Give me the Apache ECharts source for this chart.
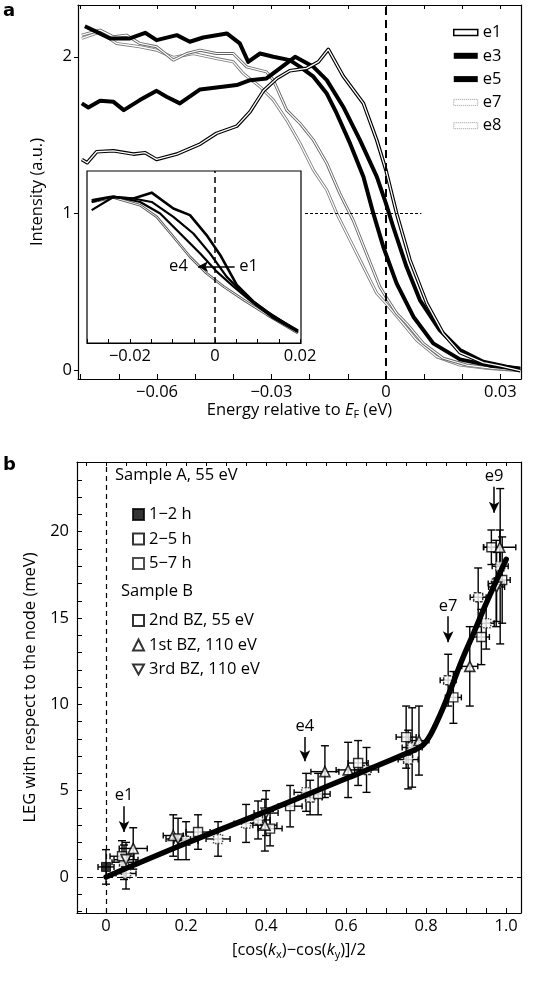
<!DOCTYPE html>
<html>
<head>
<meta charset="utf-8">
<script src="https://cdn.jsdelivr.net/npm/echarts@6/dist/echarts.min.js"></script>
<style>html,body{margin:0;padding:0;background:#fff;}#c{width:537px;height:1002px;}</style>
</head>
<body>
<div id="c"></div>
<script>
// ---------- Panel a: EDC curves [energy (eV), intensity (a.u.)] ----------
const e1Curve = [[-0.0797,1.346],[-0.0783,1.325],[-0.0758,1.395],[-0.0714,1.401],[-0.0662,1.380],[-0.0631,1.389],[-0.0601,1.346],[-0.0548,1.380],[-0.0487,1.444],[-0.0444,1.512],[-0.0391,1.558],[-0.0356,1.650],[-0.0321,1.783],[-0.0286,1.862],[-0.0252,1.911],[-0.0208,1.926],[-0.0177,1.968],[-0.0151,2.047],[-0.0112,1.877],[-0.0059,1.703],[-0.0024,1.469],[0,1.278],[0.0028,1.002],[0.0063,0.705],[0.0107,0.429],[0.0150,0.238],[0.0194,0.115],[0.0255,0.051],[0.0299,0.030],[0.0352,0.0]];
const e3Curve = [[-0.0797,1.703],[-0.0780,1.677],[-0.0749,1.720],[-0.0714,1.713],[-0.0687,1.660],[-0.0645,1.724],[-0.0601,1.783],[-0.0575,1.745],[-0.0540,1.703],[-0.0487,1.792],[-0.0444,1.805],[-0.0391,1.820],[-0.0356,1.851],[-0.0313,1.862],[-0.0278,1.926],[-0.0238,2.000],[-0.0190,1.936],[-0.0155,1.851],[-0.0112,1.682],[-0.0068,1.469],[-0.0024,1.236],[0,1.066],[0.0019,0.917],[0.0054,0.662],[0.0089,0.450],[0.0141,0.259],[0.0194,0.132],[0.0255,0.057],[0.0316,0.025],[0.0352,0.013]];
const e5Curve = [[-0.0789,2.195],[-0.0758,2.159],[-0.0723,2.117],[-0.0671,2.117],[-0.0631,2.153],[-0.0601,2.106],[-0.0548,2.138],[-0.0514,2.096],[-0.0479,2.123],[-0.0417,2.149],[-0.0383,2.085],[-0.0361,1.968],[-0.0330,2.021],[-0.0295,2.000],[-0.0252,1.979],[-0.0225,1.936],[-0.0190,1.873],[-0.0155,1.766],[-0.0129,1.639],[-0.0094,1.448],[-0.0059,1.236],[-0.0033,1.002],[-0.0007,0.790],[0.0028,0.556],[0.0072,0.344],[0.0124,0.174],[0.0194,0.072],[0.0273,0.032],[0.0352,0.013]];
const e7Curve = [[-0.0797,2.138],[-0.0749,2.170],[-0.0714,2.127],[-0.0680,2.138],[-0.0645,2.085],[-0.0601,2.064],[-0.0557,1.979],[-0.0522,2.021],[-0.0487,2.042],[-0.0444,2.021],[-0.0400,2.021],[-0.0365,1.936],[-0.0313,1.904],[-0.0295,1.851],[-0.0260,1.660],[-0.0225,1.575],[-0.0190,1.469],[-0.0155,1.321],[-0.0121,1.130],[-0.0086,0.960],[-0.0051,0.747],[-0.0016,0.535],[0,0.471],[0.0028,0.365],[0.0054,0.301],[0.0098,0.174],[0.0150,0.079],[0.0211,0.036],[0.0281,0.015],[0.0352,0.004]];
const e8Curve = [[-0.0797,2.117],[-0.0749,2.159],[-0.0706,2.085],[-0.0645,2.064],[-0.0601,2.042],[-0.0557,1.996],[-0.0505,2.021],[-0.0444,1.989],[-0.0400,1.968],[-0.0374,1.894],[-0.0330,1.809],[-0.0295,1.724],[-0.0260,1.597],[-0.0225,1.448],[-0.0190,1.278],[-0.0155,1.151],[-0.0129,1.002],[-0.0094,0.832],[-0.0059,0.662],[-0.0024,0.493],[0,0.429],[0.0037,0.323],[0.0080,0.195],[0.0133,0.089],[0.0194,0.036],[0.0264,0.015],[0.0352,0.0]];

// Inset curves (normalised)
const insetE1 = [[-0.0290,0.996],[-0.0247,1.019],[-0.0192,1.008],[-0.0149,1.049],[-0.0098,0.938],[-0.0059,0.892],[-0.0020,0.753],[0.0012,0.614],[0.0051,0.405],[0.0090,0.290],[0.0137,0.185],[0.0195,0.086]];
const insetE2 = [[-0.0290,0.927],[-0.0239,1.019],[-0.0192,1.008],[-0.0149,0.984],[-0.0098,0.880],[-0.0051,0.764],[-0.0012,0.625],[0.0027,0.463],[0.0074,0.324],[0.0122,0.220],[0.0195,0.081]];
const insetE3 = [[-0.0290,0.984],[-0.0239,1.024],[-0.0176,0.984],[-0.0129,0.903],[-0.0082,0.764],[-0.0035,0.625],[0.0004,0.498],[0.0043,0.394],[0.0090,0.278],[0.0137,0.174],[0.0195,0.076]];
const insetE4 = [[-0.0290,0.984],[-0.0239,1.015],[-0.0176,0.961],[-0.0137,0.880],[-0.0098,0.741],[-0.0059,0.602],[-0.0020,0.486],[0.0020,0.394],[0.0067,0.301],[0.0122,0.197],[0.0195,0.069]];

const aXLabels = [-0.06, -0.03, 0, 0.03];
const aYLabels = [0, 1, 2];
const insetXLabels = [-0.02, 0, 0.02];

// ---------- Panel b: LEG points [x, y, xErr, yErr] ----------
const sA_1to2h = [[0.0,0.58,0.02,1.0]];
const sA_2to5h = [[0.045,0.85,0.03,1.0],[0.2,2.1,0.03,1.1],[0.38,3.3,0.03,1.1],[0.51,4.6,0.03,1.0],[0.651,6.2,0.03,1.3],[0.755,6.8,0.025,1.7],[0.855,11.4,0.02,1.5],[0.93,16.2,0.02,1.7],[0.975,17.0,0.02,2.5]];
const sA_5to7h = [[0.05,0.2,0.025,0.9],[0.28,2.2,0.03,1.0],[0.35,3.1,0.03,1.1],[0.5,4.9,0.03,1.1],[0.765,7.5,0.025,2.3],[0.95,14.7,0.02,1.5],[0.985,18.0,0.02,4.5]];
const sB_2ndBZ = [[0.04,1.2,0.03,0.9],[0.23,2.6,0.03,1.0],[0.41,2.8,0.03,1.0],[0.46,4.1,0.03,1.2],[0.53,4.8,0.03,1.2],[0.63,6.6,0.025,1.3],[0.75,8.1,0.025,1.8],[0.868,10.4,0.02,1.5],[0.938,13.9,0.02,1.6],[0.963,19.1,0.02,1.0],[0.99,17.2,0.02,2.5]];
const sB_1stBZ = [[0.068,1.65,0.035,1.2],[0.168,2.4,0.025,1.2],[0.397,3.0,0.03,1.5],[0.547,6.1,0.035,1.5],[0.605,6.2,0.03,1.6],[0.782,7.9,0.025,2.0],[0.909,12.2,0.02,2.3],[0.984,19.1,0.04,1.0]];
const sB_3rdBZ = [[0.05,1.0,0.03,1.0],[0.18,2.2,0.03,1.2],[0.4,3.7,0.03,1.3],[0.976,16.8,0.02,2.0]];
const fitCurve = [[0,0],[0.2,1.95],[0.4,3.8],[0.6,5.7],[0.75,7.15],[0.79,7.6],[0.81,8.2],[0.835,9.4],[0.86,10.8],[0.89,12.6],[0.92,14.2],[0.95,15.85],[1.0,18.4]];
const bXLabels = [0, 0.2, 0.4, 0.6, 0.8, 1.0];
const bYLabels = [0, 5, 10, 15, 20];
const bArrows = [{name:'e1', x:0.045, from:4.1, to:2.6},{name:'e4', x:0.497, from:8.1, to:6.7},{name:'e7', x:0.855, from:15.1, to:13.6},{name:'e9', x:0.97, from:22.6, to:21.1}];

// ---------------------------------------------------------------
const FONT = 'Open Sans';
const FS = 16.5;
function range(a, b, step) { const r = []; const n = Math.round((b - a) / step); for (let i = 0; i <= n; i++) r.push(+(a + i * step).toFixed(6)); return r; }
function minusFmt(v) { return v < 0 ? '\u2212' + Math.abs(v) : String(v); }

const A = {xmin:-0.0807, xmax:0.0354, ymin:-0.053, ymax:2.33};
const B = {xmin:-0.0725, xmax:1.037, ymin:-2.09, ymax:24.04};
const I = {xmin:-0.0301, xmax:0.0202, ymin:0, ymax:1.2};

const series = [];
function addCurve(name, data, outer, outerW, inner, innerW, xi, yi, z) {
  series.push({name:name, type:'line', data:data, xAxisIndex:xi, yAxisIndex:yi, showSymbol:false, z:z,
    lineStyle:{color:outer, width:outerW, join:'round'}, itemStyle:{color:outer}, silent:true});
  if (inner) series.push({name:name + ' inner', type:'line', data:data, xAxisIndex:xi, yAxisIndex:yi, showSymbol:false, z:z + 0.1,
    lineStyle:{color:inner, width:innerW, join:'round'}, silent:true});
}
addCurve('e8', e8Curve, '#7a7a7a', 3, '#fff', 1.3, 0, 0, 2);
addCurve('e7', e7Curve, '#666', 3, '#fff', 1.2, 0, 0, 2.2);
addCurve('e5', e5Curve, '#000', 4, null, 0, 0, 0, 2.4);
addCurve('e3', e3Curve, '#000', 4, null, 0, 0, 0, 2.6);
addCurve('e1', e1Curve, '#000', 3.6, '#fff', 1.3, 0, 0, 2.8);
series[0].markLine = {silent:true, symbol:['none','none'], label:{show:false},
  data:[
    {xAxis:0, lineStyle:{color:'#000', width:2, type:[8,5]}},
    [{coord:[-0.0212,1], lineStyle:{color:'#000', width:1, type:[3,2]}}, {coord:[0.0093,1]}]
  ]};

// inset
addCurve('i4', insetE4, '#555', 2.6, '#fff', 0.9, 4, 4, 3);
addCurve('i3', insetE3, '#000', 2.2, null, 0, 4, 4, 3.2);
addCurve('i2', insetE2, '#000', 2.2, null, 0, 4, 4, 3.4);
addCurve('i1', insetE1, '#000', 2.6, null, 0, 4, 4, 3.6);
const insetSeries = series.find(s => s.name === 'i1');
insetSeries.markLine = {silent:true, symbol:['none','none'], label:{show:false},
  data:[
    {xAxis:0, lineStyle:{color:'#000', width:1.5, type:[6,4]}},
    [{coord:[0.0046,0.533], symbol:'none', lineStyle:{color:'#000', width:1.5, type:'solid'}}, {coord:[-0.0040,0.533], symbol:'arrow', symbolSize:[8,10]}]
  ]};
insetSeries.markPoint = {silent:true, symbol:'circle', symbolSize:0,
  label:{show:true, position:'inside', formatter:'{b}', color:'#000', fontFamily:FONT, fontSize:FS},
  data:[{name:'e4', coord:[-0.0086,0.533]}, {name:'e1', coord:[0.0079,0.533]}]};

// panel b error bars
function errRender(params, api) {
  const x = api.value(0), y = api.value(1), dx = api.value(2), dy = api.value(3);
  const t = api.coord([x, y + dy]), b = api.coord([x, y - dy]);
  const l = api.coord([x - dx, y]), r = api.coord([x + dx, y]);
  const cap = 4, vcap = 3;
  const st = {stroke:'#000', lineWidth:1.4, fill:null};
  const ln = (x1, y1, x2, y2) => ({type:'line', shape:{x1, y1, x2, y2}, style:st});
  return {type:'group', children:[
    ln(t[0], t[1], b[0], b[1]), ln(t[0]-cap, t[1], t[0]+cap, t[1]), ln(b[0]-cap, b[1], b[0]+cap, b[1]),
    ln(l[0], l[1], r[0], r[1]), ln(l[0], l[1]-vcap, l[0], l[1]+vcap), ln(r[0], r[1]-vcap, r[0], r[1]+vcap)
  ]};
}
const bSets = [
  {name:'1\u22122 h', data:sA_1to2h, symbol:'rect', style:{color:'#000', borderColor:'#000', borderWidth:1}},
  {name:'2\u22125 h', data:sA_2to5h, symbol:'rect', style:{color:'#fff', borderColor:'#000', borderWidth:1.5, borderType:[3,1.5]}},
  {name:'5\u22127 h', data:sA_5to7h, symbol:'rect', style:{color:'#fff', borderColor:'#222', borderWidth:1.5, borderType:[1.5,1.5]}},
  {name:'2nd BZ, 55 eV', data:sB_2ndBZ, symbol:'rect', style:{color:'#fff', borderColor:'#000', borderWidth:1.4}},
  {name:'1st BZ, 110 eV', data:sB_1stBZ, symbol:'triangle', style:{color:'#fff', borderColor:'#000', borderWidth:1.6}},
  {name:'3rd BZ, 110 eV', data:sB_3rdBZ, symbol:'path://M0,0L10,0L5,9Z', style:{color:'#fff', borderColor:'#000', borderWidth:1.6}}
];
bSets.forEach((s, k) => {
  series.push({name:'err' + k, type:'custom', xAxisIndex:2, yAxisIndex:2, data:s.data, encode:{x:0, y:1},
    renderItem:errRender, z:3, silent:true});
});
bSets.forEach((s) => {
  series.push({name:s.name, type:'scatter', xAxisIndex:2, yAxisIndex:2, data:s.data.map(d => [d[0], d[1]]),
    symbol:s.symbol, symbolSize:s.symbol === 'rect' ? 9 : 10, itemStyle:s.style, z:4, silent:true});
});
series.push({name:'fit', type:'line', xAxisIndex:2, yAxisIndex:2, data:fitCurve, smooth:0.35, showSymbol:false, z:5, silent:true,
  lineStyle:{color:'#000', width:5.5, cap:'round'},
  markLine:{silent:true, symbol:['none','none'],
    label:{show:true, position:'start', formatter:'{b}', color:'#000', fontFamily:FONT, fontSize:FS, distance:2},
    data:[{xAxis:0, label:{show:false}, lineStyle:{color:'#000', width:1.2, type:[5,4]}},
          {yAxis:0, label:{show:false}, lineStyle:{color:'#000', width:1.2, type:[6,4]}}]
      .concat(bArrows.map(a => [{name:a.name, coord:[a.x, a.from], symbol:'none', lineStyle:{color:'#000', width:1.5, type:'solid'}}, {coord:[a.x, a.to], symbol:'arrow', symbolSize:[8,11]}]))
  }});

const axLine = {show:true, onZero:false, lineStyle:{color:'#000', width:1.2}};
const lbl = {fontFamily:FONT, fontSize:FS, color:'#000'};
function tickAxis(extra) { return Object.assign({splitLine:{show:false}, axisLine:axLine}, extra); }
const subStyle = {fontFamily:FONT, fontSize:11, padding:[8,0,0,0], color:'#000'};

const option = {
  animation:false,
  backgroundColor:'#fff',
  textStyle:{fontFamily:FONT},
  grid:[
    {left:78, top:5, width:443, height:374},
    {left:77, top:462, width:444, height:451},
    {left:87, top:171, width:214, height:172, show:true, borderColor:'#000', borderWidth:1.2, backgroundColor:'transparent'}
  ],
  xAxis:[
    tickAxis({type:'value', gridIndex:0, min:A.xmin, max:A.xmax, position:'bottom',
      axisTick:{show:true, inside:true, length:5, customValues:range(-0.08, 0.03, 0.01), lineStyle:{color:'#000'}},
      axisLabel:Object.assign({customValues:aXLabels, formatter:minusFmt, margin:5}, lbl),
      name:'{n|Energy relative to }{i|E}{s|F}{n| (eV)}', nameLocation:'middle', nameGap:21,
      nameTextStyle:{rich:{n:lbl, i:Object.assign({fontStyle:'italic'}, lbl), s:subStyle}}}),
    tickAxis({type:'value', gridIndex:0, min:A.xmin, max:A.xmax, position:'top',
      axisTick:{show:true, inside:true, length:4, customValues:range(-0.08, 0.03, 0.01), lineStyle:{color:'#000'}},
      axisLabel:{show:false}}),
    tickAxis({type:'value', gridIndex:1, min:B.xmin, max:B.xmax, position:'bottom',
      axisTick:{show:true, inside:true, length:5, customValues:range(-0.05, 1.0, 0.05), lineStyle:{color:'#000'}},
      axisLabel:Object.assign({customValues:bXLabels, formatter:v => v === 0 ? '0' : v.toFixed(1), margin:5}, lbl),
      name:'{n|[cos(}{i|k}{s|x}{n|)\u2212cos(}{i|k}{s|y}{n|)]/2}', nameLocation:'middle', nameGap:28,
      nameTextStyle:{rich:{n:lbl, i:Object.assign({fontStyle:'italic'}, lbl), s:subStyle}}}),
    tickAxis({type:'value', gridIndex:1, min:B.xmin, max:B.xmax, position:'top',
      axisTick:{show:true, inside:true, length:4, customValues:range(-0.05, 1.0, 0.05), lineStyle:{color:'#000'}},
      axisLabel:{show:false}}),
    tickAxis({type:'value', gridIndex:2, min:I.xmin, max:I.xmax, position:'bottom', z:5,
      axisTick:{show:true, inside:true, length:4, customValues:range(-0.03, 0.02, 0.005), lineStyle:{color:'#000'}},
      axisLabel:Object.assign({customValues:insetXLabels, formatter:minusFmt, margin:5}, lbl)})
  ],
  yAxis:[
    tickAxis({type:'value', gridIndex:0, min:A.ymin, max:A.ymax, position:'left',
      axisTick:{show:true, inside:false, length:4, customValues:aYLabels, lineStyle:{color:'#000'}},
      axisLabel:Object.assign({customValues:aYLabels, margin:6}, lbl),
      name:'Intensity (a.u.)', nameLocation:'middle', nameGap:32, nameTextStyle:lbl}),
    tickAxis({type:'value', gridIndex:0, min:A.ymin, max:A.ymax, position:'right', axisTick:{show:false}, axisLabel:{show:false}}),
    tickAxis({type:'value', gridIndex:1, min:B.ymin, max:B.ymax, position:'left',
      axisTick:{show:true, inside:true, length:5, customValues:range(-2, 24, 1), lineStyle:{color:'#000'}},
      axisLabel:Object.assign({customValues:bYLabels, margin:8}, lbl),
      name:'LEG with respect to the node (meV)', nameLocation:'middle', nameGap:33, nameTextStyle:lbl}),
    tickAxis({type:'value', gridIndex:1, min:B.ymin, max:B.ymax, position:'right', axisTick:{show:false}, axisLabel:{show:false}}),
    tickAxis({type:'value', gridIndex:2, min:I.ymin, max:I.ymax, position:'left', z:5, axisLine:{show:false}, axisTick:{show:false}, axisLabel:{show:false}})
  ],
  legend:[
    {orient:'vertical', left:448, top:19, itemWidth:24, itemHeight:6, itemGap:6.3, textStyle:lbl, selectedMode:false,
      data:[
        {name:'e1', icon:'rect', itemStyle:{color:'#fff', borderColor:'#000', borderWidth:1.5}},
        {name:'e3', icon:'rect', itemStyle:{color:'#000', borderColor:'#000', borderWidth:0}},
        {name:'e5', icon:'rect', itemStyle:{color:'#000', borderColor:'#000', borderWidth:0}},
        {name:'e7', icon:'rect', itemStyle:{color:'#fff', borderColor:'#999', borderWidth:1, borderType:'dotted'}},
        {name:'e8', icon:'rect', itemStyle:{color:'#fff', borderColor:'#999', borderWidth:1, borderType:'dotted'}}
      ]},
    {orient:'vertical', left:127, top:501, itemWidth:11, itemHeight:11, itemGap:7.5, textStyle:lbl, selectedMode:false,
      data:bSets.slice(0,3).map(s => s.name)},
    {orient:'vertical', left:127, top:607, itemWidth:11, itemHeight:11, itemGap:7.5, textStyle:lbl, selectedMode:false,
      data:bSets.slice(3).map(s => s.name)}
  ],
  graphic:[
    {type:'text', left:3, top:2, style:{text:'a', font:'bold 18px "DejaVu Sans"', fill:'#000'}},
    {type:'text', left:3, top:456, style:{text:'b', font:'bold 18px "DejaVu Sans"', fill:'#000'}},
    {type:'text', left:115, top:467, style:{text:'Sample A, 55 eV', font:FS + 'px "' + FONT + '"', fill:'#000'}},
    {type:'text', left:121, top:583, style:{text:'Sample B', font:FS + 'px "' + FONT + '"', fill:'#000'}}
  ],
  series:series
};
const chart = echarts.init(document.getElementById('c'), null, {renderer:'canvas'});
chart.setOption(option);
</script>
</body>
</html>
